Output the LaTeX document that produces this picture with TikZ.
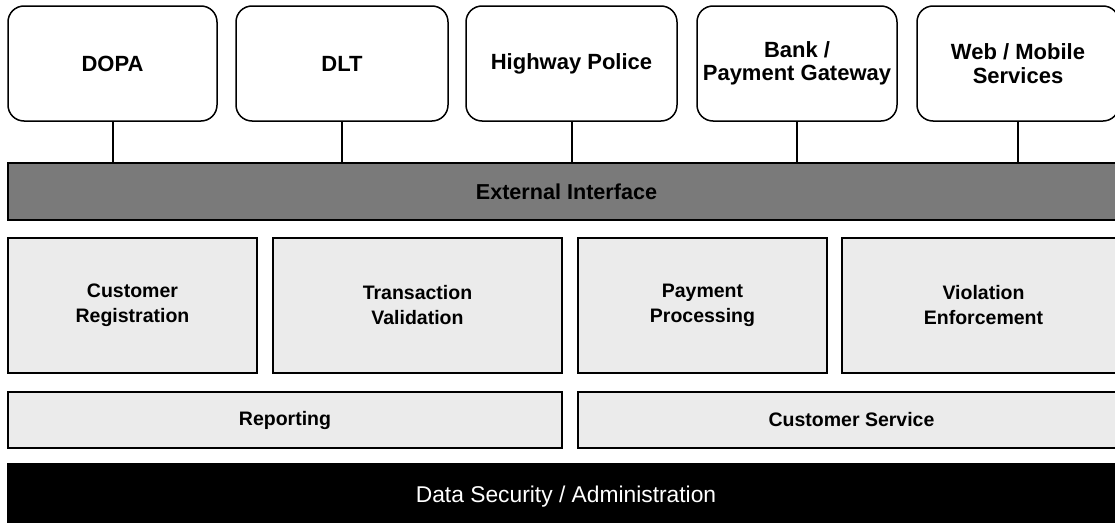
\documentclass[tikz,border=0pt]{standalone}
\usepackage{fontspec}
\setmainfont{Liberation Sans}

\begin{document}
\begin{tikzpicture}[
                x=1pt, y=-1pt,
                topbox/.style={draw=black, line width=1.5pt, rounded corners=16pt, fill=white, inner sep=0pt, align=center, minimum height=115pt, font=\fontsize{22}{23.5}\selectfont\bfseries},
                modbox/.style={draw=black, line width=2pt, fill=black!8, inner sep=0pt, align=center, font=\fontsize{19.5}{25}\selectfont\bfseries},
                busbar/.style={draw=black, line width=2.5pt, fill=black!52, inner sep=0pt, font=\fontsize{21.6}{23}\selectfont\bfseries},
                basebar/.style={fill=black, text=white, inner sep=0pt, font=\fontsize{22.8}{24}\selectfont},
                link/.style={draw=black, line width=2pt},
            ]
                \useasboundingbox (0,0) rectangle (1115,522);
                \clip (0,0) rectangle (1115,522);
                \node[topbox, minimum width=209pt] (dopa) at (112.5,63.5) {DOPA};
                \node[topbox, minimum width=212pt] (dlt) at (342,63.5) {DLT};
                \node[topbox, minimum width=211pt] (police) at (571.5,63.5) {Highway Police};
                \node[topbox, minimum width=200pt] (bank) at (797,63.5) {Bank /\\Payment Gateway};
                \node[topbox, minimum width=202pt] (web) at (1018,63.5) {Web / Mobile\\Services};
                \node[busbar, minimum width=1117pt, minimum height=57pt] (ext) at (566.5,191.5) {External Interface};
                \foreach \src in {dopa, dlt, police, bank, web}
                    \draw[link] (\src.south) -- (\src.south |- ext.north);
                \node[modbox, minimum width=249pt, minimum height=135pt] (custreg) at (132.5,305.5) {Customer\\Registration};
                \node[modbox, minimum width=289pt, minimum height=135pt] (transval) at (417.5,305.5) {Transaction\\Validation};
                \node[modbox, minimum width=249pt, minimum height=135pt] (payproc) at (702.5,305.5) {Payment\\Processing};
                \node[modbox, minimum width=283pt, minimum height=135pt] (violenf) at (983.5,305.5) {Violation\\Enforcement};
                \node[modbox, minimum width=554pt, minimum height=56pt] (report) at (285,420) {Reporting};
                \node[modbox, minimum width=547pt, minimum height=56pt] (custserv) at (851.5,420) {Customer Service};
                \node[basebar, minimum width=1118pt, minimum height=68pt] (datasec) at (566,497) {Data Security / Administration};
            \end{tikzpicture}
\end{document}
